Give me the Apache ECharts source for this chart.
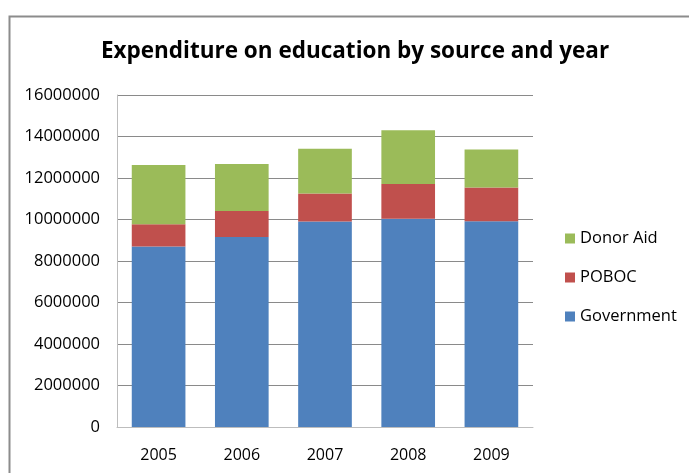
<!DOCTYPE html>
<html>
<head>
<meta charset="utf-8">
<script src="https://cdn.jsdelivr.net/npm/echarts@6/dist/echarts.min.js"></script>
<style>html,body{margin:0;padding:0;background:#fff}#c{width:689px;height:473px}</style>
</head>
<body>
<div id="c"></div>
<script>
const years = ['2005', '2006', '2007', '2008', '2009'];
const government = [8700000, 9160000, 9900000, 10040000, 9920000];
const poboc = [1070000, 1250000, 1350000, 1670000, 1620000];
const donorAid = [2860000, 2270000, 2160000, 2590000, 1830000];
const yTicks = { min: 0, max: 16000000, interval: 2000000 };

const font = '"Open Sans", "DejaVu Sans", sans-serif';
const chart = echarts.init(document.getElementById('c'), null, { renderer: 'canvas' });
const mk = (name, data, color) => ({
  name, type: 'bar', stack: 'total', data, barCategoryGap: '35.5%',
  itemStyle: { color }, emphasis: { disabled: true }
});
chart.setOption({
  animation: false,
  backgroundColor: '#ffffff',
  graphic: [{
    type: 'rect', left: 7, top: 14, shape: { x: 0, y: 0, width: 720, height: 500 },
    style: { fill: 'none', stroke: '#8c8c8c', lineWidth: 2 }, silent: true
  }],
  title: {
    text: 'Expenditure on education by source and year',
    left: 350, top: 35, textAlign: 'center',
    textStyle: { fontFamily: font, fontWeight: 'bold', fontSize: 22.5, color: '#000' }
  },
  legend: {
    orient: 'vertical', left: 565, top: 230, padding: 0,
    itemWidth: 10, itemHeight: 10, itemGap: 22,
    icon: 'rect',
    data: ['Donor Aid', 'POBOC', 'Government'],
    textStyle: { fontFamily: font, fontSize: 16.5, color: '#000', padding: [0, 0, 0, 0] }
  },
  grid: { left: 117, top: 95, right: 156, bottom: 46, containLabel: false },
  xAxis: {
    type: 'category', data: years,
    axisLine: { lineStyle: { color: '#bdbdbd', width: 1 } },
    axisTick: { show: false },
    axisLabel: { fontFamily: font, fontSize: 16, color: '#000', margin: 20 }
  },
  yAxis: {
    type: 'value', min: yTicks.min, max: yTicks.max, interval: yTicks.interval,
    axisLine: { show: true, lineStyle: { color: '#bdbdbd', width: 1 } },
    axisTick: { show: false },
    axisLabel: { fontFamily: font, fontSize: 16.5, color: '#000', margin: 17,
      formatter: v => String(v) },
    splitLine: { lineStyle: { color: '#8a8a8a', width: 1 } }
  },
  series: [
    mk('Government', government, '#4f81bd'),
    mk('POBOC', poboc, '#c0504d'),
    mk('Donor Aid', donorAid, '#9bbb59')
  ]
});
</script>
</body>
</html>
